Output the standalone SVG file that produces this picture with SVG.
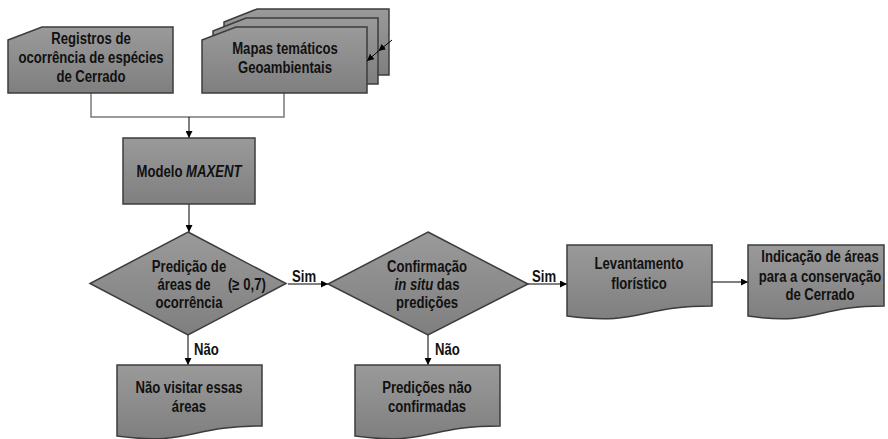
<svg xmlns="http://www.w3.org/2000/svg" width="888" height="439" viewBox="0 0 888 439">
<defs>
<linearGradient id="g" x1="0" y1="0" x2="0" y2="1">
<stop offset="0" stop-color="#9a9a9a"/>
<stop offset="1" stop-color="#7f7f7f"/>
</linearGradient>
<marker id="ah" viewBox="0 0 10 10" refX="10" refY="5" markerWidth="7" markerHeight="7" markerUnits="userSpaceOnUse" orient="auto">
<path d="M0,0 L10,5 L0,10 Z" fill="#000"/>
</marker>
</defs>
<style>
.s{fill:url(#g);stroke:#3c3c3c;stroke-width:1.5}
.t{font-family:"Liberation Sans",Arial,sans-serif;font-weight:bold;font-size:16px;fill:#111;text-anchor:middle}
.l{font-family:"Liberation Sans",Arial,sans-serif;font-weight:bold;font-size:16px;fill:#111}
.c{fill:none;stroke:#000;stroke-width:1}
.b{fill:none;stroke:#7a7a7a;stroke-width:1.5}
</style>
<g id="connectors">
<path class="b" d="M91,93 V117 H284 V93"/>
<path class="c" d="M189,117 V138" marker-end="url(#ah)"/>
<path class="c" d="M189,204 V232" marker-end="url(#ah)"/>
<path class="c" d="M288,284 H328" marker-end="url(#ah)"/>
<path class="c" d="M528,284 H567" marker-end="url(#ah)"/>
<path class="c" d="M712,282 H748" marker-end="url(#ah)"/>
<path class="c" d="M188,335 V365" marker-end="url(#ah)"/>
<path class="c" d="M428,335 V365" marker-end="url(#ah)"/>
<text class="l" transform="translate(292,282) scale(0.82,1)">Sim</text>
<text class="l" transform="translate(532,282) scale(0.82,1)">Sim</text>
<text class="l" transform="translate(194,355) scale(0.82,1)">Não</text>
<text class="l" transform="translate(435,355) scale(0.82,1)">Não</text>
</g>
<g id="registros">
<path class="s" d="M8,40 L42,27 L173,27 L173,93 L8,93 Z"/>
<text class="t" transform="translate(91,44) scale(0.82,1)">Registros de</text>
<text class="t" transform="translate(91,63) scale(0.82,1)">ocorrência de espécies</text>
<text class="t" transform="translate(91,82) scale(0.82,1)">de Cerrado</text>
</g>
<g id="mapas">
<path class="s" d="M224,22 L257,9 L389,9 L389,75 L224,75 Z"/>
<path class="s" d="M213,31 L246,18 L378,18 L378,84 L213,84 Z"/>
<path class="s" d="M202,40 L236,27 L367,27 L367,93 L202,93 Z"/>
<path class="c" d="M392,40 L378.5,51" marker-end="url(#ah)"/>
<path class="c" d="M378.5,51 L367,61" marker-end="url(#ah)"/>
<text class="t" transform="translate(285,54) scale(0.82,1)">Mapas temáticos</text>
<text class="t" transform="translate(285,73) scale(0.82,1)">Geoambientais</text>
</g>
<g id="modelo">
<rect class="s" x="123" y="138" width="132" height="66"/>
<text class="t" transform="translate(189,177) scale(0.82,1)">Modelo <tspan font-style="italic">MAXENT</tspan></text>
</g>
<g id="predicao">
<path class="s" d="M188,232 L286,283.5 L188,335 L90,283.5 Z"/>
<text class="t" transform="translate(189,272) scale(0.82,1)">Predição de</text>
<text class="t" transform="translate(184,290) scale(0.82,1)">áreas de</text>
<text class="l" transform="translate(228,290) scale(0.82,1)">(≥ 0,7)</text>
<text class="t" transform="translate(189,308) scale(0.82,1)">ocorrência</text>
</g>
<g id="confirmacao">
<path class="s" d="M428,232 L528,284 L428,335 L328,284 Z"/>
<text class="t" transform="translate(427,272) scale(0.82,1)">Confirmação</text>
<text class="t" transform="translate(427,290) scale(0.82,1)"><tspan font-style="italic">in situ</tspan> das</text>
<text class="t" transform="translate(427,308) scale(0.82,1)">predições</text>
</g>
<g id="levantamento">
<path class="s" d="M567,245 H712 V306 C639.5,306 639.5,326 567,316 Z"/>
<text class="t" transform="translate(639,269) scale(0.82,1)">Levantamento</text>
<text class="t" transform="translate(639,289) scale(0.82,1)">florístico</text>
</g>
<g id="indicacao">
<path class="s" d="M748,245 H884 V306 C816,306 816,326 748,316 Z"/>
<text class="t" transform="translate(820,262) scale(0.82,1)">Indicação de áreas</text>
<text class="t" transform="translate(820,282) scale(0.82,1)">para a conservação</text>
<text class="t" transform="translate(820,300) scale(0.82,1)">de Cerrado</text>
</g>
<g id="naovisitar">
<path class="s" d="M117,365 H262 V426 C189.5,426 189.5,446 117,436 Z"/>
<text class="t" transform="translate(189,393) scale(0.82,1)">Não visitar essas</text>
<text class="t" transform="translate(189,412) scale(0.82,1)">áreas</text>
</g>
<g id="naoconfirmadas">
<path class="s" d="M355,365 H500 V426 C427.5,426 427.5,446 355,436 Z"/>
<text class="t" transform="translate(427,393) scale(0.82,1)">Predições não</text>
<text class="t" transform="translate(427,412) scale(0.82,1)">confirmadas</text>
</g>
</svg>
